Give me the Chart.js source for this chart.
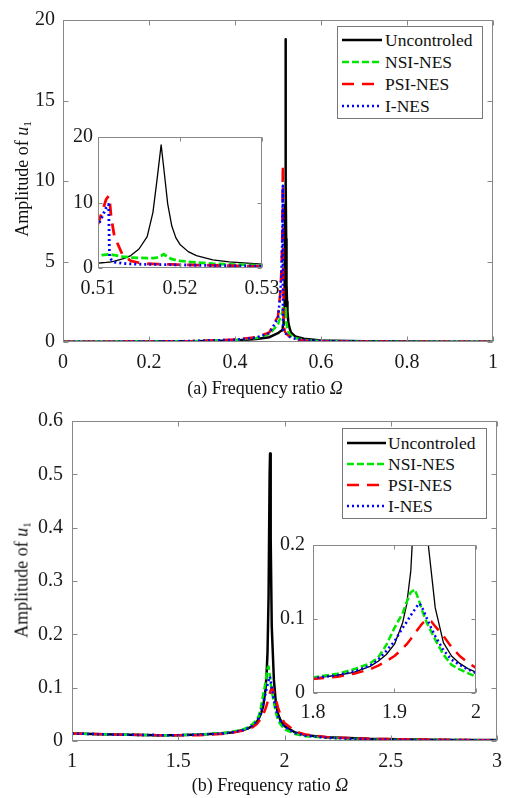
<!DOCTYPE html>
<html><head><meta charset="utf-8">
<script src="https://cdn.jsdelivr.net/npm/chart.js@4.4.1/dist/chart.umd.min.js"></script>
<style>
html,body{margin:0;padding:0;background:#fff;}
body{width:514px;height:798px;position:relative;overflow:hidden;font-family:"Liberation Serif","Times New Roman",serif;color:#111;}
canvas{position:absolute;}
.ytitle{position:absolute;font-size:18px;white-space:nowrap;transform:translate(-50%,-50%) rotate(-90deg);}
.xtitle{position:absolute;font-size:18px;white-space:nowrap;transform:translate(-50%,-50%);}
.sub{font-size:0.62em;position:relative;top:0.3em;}
.legend{position:absolute;border:1px solid #777;background:#fff;box-sizing:border-box;}
.legend .row{position:absolute;left:0;height:22px;display:flex;align-items:center;font-size:17.5px;white-space:nowrap;color:#111;}
.legend svg{display:block;}
</style></head>
<body>
<canvas id="cA" width="514" height="400" style="left:0;top:0"></canvas>
<canvas id="cAi" width="230" height="185" style="left:60px;top:120px"></canvas>
<canvas id="cB" width="514" height="398" style="left:0;top:400px"></canvas>
<canvas id="cBi" width="240" height="205" style="left:265px;top:525px"></canvas>
<div class="ytitle" style="left:22px;top:179px">Amplitude of <i>u</i><span class="sub">1</span></div>
<div class="xtitle" style="left:265px;top:388px">(a) Frequency ratio <i>Ω</i></div>
<div class="ytitle" style="left:22px;top:580px">Amplitude of <i>u</i><span class="sub">1</span></div>
<div class="xtitle" style="left:270px;top:785px">(b) Frequency ratio <i>Ω</i></div>
<div class="legend" id="legA" style="left:337px;top:26px;width:146px;height:93px"></div>
<div class="legend" id="legB" style="left:342px;top:428px;width:145px;height:91px"></div>
<script>
// ---------- data ----------
const seriesNames = ['Uncontroled','NSI-NES','PSI-NES','I-NES'];

// (a) frequency ratio values
const xA = [0,0.1,0.2,0.3,0.4,0.45,0.48,0.5,0.505,0.508,
            0.51,0.5105,0.511,0.5113,0.5114,0.5116,0.512,0.513,0.514,0.515,
            0.516,0.5167,0.5172,0.5177,0.518,0.5185,0.519,0.5195,0.52,0.521,
            0.522,0.524,0.526,0.53,0.54,0.56,0.6,0.7,0.8,0.9,
            1.0];
const uncontroledA = [0.02,0.02,0.03,0.05,0.1,0.18,0.3,0.55,0.65,0.7,
            0.75,0.8,0.85,0.9,0.9,0.95,1.05,1.4,1.9,2.9,
            4.8,8.5,13.5,18.8,15.5,9.8,6.4,4.6,3.6,2.5,
            1.9,1.25,0.95,0.6,0.35,0.2,0.1,0.05,0.03,0.02,
            0.02];
const nsiA = [0.02,0.02,0.03,0.05,0.12,0.25,0.5,1.1,1.5,1.7,
            1.85,1.95,2.05,2.1,2.1,2.05,1.95,1.75,1.6,1.55,
            1.5,1.5,1.6,1.85,2.1,1.7,1.35,1.2,1.1,0.95,
            0.85,0.65,0.55,0.4,0.25,0.13,0.06,0.03,0.02,0.02,
            0.02];
const psiA = [0.02,0.02,0.03,0.06,0.15,0.3,0.6,1.6,3.0,4.5,
            6.7,8.6,10.5,11.0,10.6,7.8,4.8,2.0,1.1,0.8,
            0.65,0.62,0.6,0.58,0.57,0.56,0.55,0.53,0.5,0.47,
            0.45,0.4,0.35,0.25,0.15,0.1,0.05,0.03,0.02,0.02,
            0.02];
const inesA = [0.02,0.02,0.03,0.06,0.14,0.28,0.55,1.5,2.8,4.3,
            6.5,7.8,9.2,9.7,1.8,1.3,0.9,0.7,0.62,0.58,
            0.56,0.55,0.54,0.53,0.52,0.51,0.5,0.49,0.48,0.45,
            0.42,0.38,0.34,0.28,0.2,0.12,0.06,0.03,0.02,0.02,
            0.02];

// (b) frequency ratio values
const xB = [1,1.2,1.4,1.5,1.6,1.7,1.75,1.8,1.83,1.85,
            1.87,1.88,1.89,1.9,1.91,1.915,1.92,1.925,1.93,1.932,
            1.935,1.94,1.945,1.95,1.96,1.97,1.98,1.99,2.0,2.05,
            2.1,2.2,2.4,2.6,2.8,3.0];
const uncontroledB = [0.014,0.012,0.011,0.011,0.012,0.014,0.016,0.02,0.024,0.028,
            0.036,0.043,0.052,0.066,0.095,0.12,0.165,0.27,0.5,0.539,
            0.38,0.215,0.165,0.115,0.068,0.05,0.04,0.033,0.028,0.016,
            0.011,0.007,0.004,0.003,0.002,0.002];
const nsiB = [0.014,0.012,0.011,0.011,0.012,0.015,0.017,0.021,0.026,0.032,
            0.04,0.048,0.065,0.088,0.108,0.123,0.136,0.14,0.125,0.118,
            0.108,0.094,0.083,0.072,0.052,0.038,0.032,0.027,0.022,0.013,
            0.009,0.006,0.003,0.002,0.002,0.001];
const psiB = [0.014,0.012,0.011,0.011,0.011,0.013,0.015,0.019,0.022,0.026,
            0.032,0.037,0.043,0.05,0.06,0.066,0.073,0.081,0.088,0.091,
            0.095,0.099,0.097,0.09,0.077,0.062,0.05,0.041,0.034,0.018,
            0.012,0.007,0.004,0.003,0.002,0.001];
const inesB = [0.014,0.012,0.011,0.011,0.012,0.014,0.016,0.02,0.024,0.029,
            0.037,0.045,0.057,0.07,0.088,0.096,0.105,0.113,0.121,0.119,
            0.113,0.1,0.088,0.077,0.058,0.045,0.038,0.032,0.027,0.015,
            0.01,0.006,0.003,0.002,0.002,0.001];

// tick values and labels
const tickXA = [0,0.2,0.4,0.6,0.8,1];            const labXA = ['0','0.2','0.4','0.6','0.8','1'];
const tickYA = [0,5,10,15,20];                   const labYA = ['0','5','10','15','20'];
const tickXAi = [0.51,0.52,0.53];                const labXAi = ['0.51','0.52','0.53'];
const tickYAi = [0,10,20];                       const labYAi = ['0','10','20'];
const tickXB = [1,1.5,2,2.5,3];                  const labXB = ['1','1.5','2','2.5','3'];
const tickYB = [0,0.1,0.2,0.3,0.4,0.5,0.6];      const labYB = ['0','0.1','0.2','0.3','0.4','0.5','0.6'];
const tickXBi = [1.8,1.9,2];                     const labXBi = ['1.8','1.9','2'];
const tickYBi = [0,0.1,0.2];                     const labYBi = ['0','0.1','0.2'];

// ---------- styling ----------
const FONT = '"Liberation Serif", "Times New Roman", serif';
const colors = ['#000000','#00e600','#ff0000','#0000ff'];
const dashes = [[], [7,3], [12,8], [2,3]];

function pts(xs, ys){ return xs.map((x,i)=>({x:x, y:ys[i]})); }
function makeSets(xs, list, widths){
  return list.map((ys,i)=>({
    label: seriesNames[i], data: pts(xs, ys), borderColor: colors[i], backgroundColor: colors[i],
    borderWidth: widths[i], borderDash: dashes[i], pointRadius: 0, tension: 0, fill: false,
    order: 4 - i, borderCapStyle: 'butt', borderJoinStyle: 'round', clip: 0
  }));
}
function axis(c){
  return {
    type: 'linear', min: c.min, max: c.max,
    afterBuildTicks: s => { s.ticks = c.vals.map(v => ({value: v})); },
    afterFit: s => { if (c.w != null) s.width = c.w; if (c.h != null) s.height = c.h; },
    grid: {display: false, drawTicks: false},
    border: {display: false},
    ticks: {autoSkip: false, maxRotation: 0, padding: c.pad, color: '#1a1a1a',
      font: {family: FONT, size: c.fs || 20}, callback: (v, i) => c.labels[i]}
  };
}
const framePlugin = {
  id: 'frame',
  beforeDraw(chart, args, o) {
    if (!o.bg) return;
    const a = chart.chartArea, ctx = chart.ctx;
    ctx.save(); ctx.fillStyle = '#fff';
    ctx.fillRect(a.left, a.top, a.right - a.left, a.bottom - a.top);
    ctx.restore();
  },
  afterDraw(chart, args, o) {
    const a = chart.chartArea, ctx = chart.ctx, sx = chart.scales.x, sy = chart.scales.y;
    const L = o.tick || 5;
    ctx.save();
    ctx.strokeStyle = o.color || '#888'; ctx.lineWidth = 1; ctx.setLineDash([]);
    const l = Math.round(a.left) + 0.5, r = Math.round(a.right) - 0.5, t = Math.round(a.top) + 0.5, b = Math.round(a.bottom) - 0.5;
    ctx.strokeRect(l, t, r - l, b - t);
    ctx.beginPath();
    sx.ticks.forEach(tk => { const p = Math.round(sx.getPixelForValue(tk.value)) + 0.5;
      ctx.moveTo(p, b); ctx.lineTo(p, b - L); ctx.moveTo(p, t); ctx.lineTo(p, t + L); });
    sy.ticks.forEach(tk => { const p = Math.round(sy.getPixelForValue(tk.value)) + 0.5;
      ctx.moveTo(l, p); ctx.lineTo(l + L, p); ctx.moveTo(r, p); ctx.lineTo(r - L, p); });
    ctx.stroke();
    ctx.restore();
  }
};
function build(id, sets, xa, ya, pad, frame){
  return new Chart(document.getElementById(id), {
    type: 'line',
    data: {datasets: sets},
    options: {
      responsive: false, animation: false, devicePixelRatio: 1,
      layout: {padding: pad},
      scales: {x: axis(xa), y: axis(ya)},
      plugins: {legend: {display: false}, tooltip: {enabled: false}, frame: frame}
    },
    plugins: [framePlugin]
  });
}

const listA = [uncontroledA, nsiA, psiA, inesA];
const listB = [uncontroledB, nsiB, psiB, inesB];

const chartA = build('cA', makeSets(xA, listA, [2.5,2.5,2.5,2.5]),
  {min:0, max:1, vals:tickXA, labels:labXA, h:58, pad:9},
  {min:0, max:20, vals:tickYA, labels:labYA, w:63, pad:8},
  {left:0, right:21, top:16, bottom:0}, {tick:5, color:'#888'});

const chartAi = build('cAi', makeSets(xA, listA, [1.3,2.8,2.8,2.8]),
  {min:0.51, max:0.53, vals:tickXAi, labels:labXAi, h:37, pad:9},
  {min:0, max:20, vals:tickYAi, labels:labYAi, w:38, pad:5},
  {left:0, right:28, top:15, bottom:0}, {tick:4, color:'#888', bg:true});

const chartB = build('cB', makeSets(xB, listB, [2.5,2.5,2.5,2.5]),
  {min:1, max:3, vals:tickXB, labels:labXB, h:57, pad:9},
  {min:0, max:0.6, vals:tickYB, labels:labYB, w:72, pad:9},
  {left:0, right:17, top:19, bottom:0}, {tick:5, color:'#888'});

const chartBi = build('cBi', makeSets(xB, listB, [1.3,2.5,2.5,2.5]),
  {min:1.8, max:2, vals:tickXBi, labels:labXBi, h:37, pad:8},
  {min:0, max:0.2, vals:tickYBi, labels:labYBi, w:48, pad:8},
  {left:0, right:29, top:20, bottom:0}, {tick:4, color:'#888', bg:true});

// ---------- HTML legends built from the chart datasets ----------
function htmlLegend(chart, elId, firstCenter, gap, x1, x2, svgW){
  const el = document.getElementById(elId);
  chart.data.datasets.forEach((d, i) => {
    const row = document.createElement('div');
    row.className = 'row';
    row.style.top = (firstCenter + i * gap - 11) + 'px';
    row.innerHTML = '<svg width="' + svgW + '" height="22"><line x1="' + x1 + '" y1="11" x2="' + x2 + '" y2="11" stroke="' +
      d.borderColor + '" stroke-width="2.5" stroke-dasharray="' + (d.borderDash.length ? d.borderDash.join(' ') : 'none') +
      '"/></svg><span>' + d.label + '</span>';
    el.appendChild(row);
  });
}
htmlLegend(chartA, 'legA', 13, 22, 4, 44, 47);
htmlLegend(chartB, 'legB', 14, 21, 4, 43, 45);
</script>
</body></html>
